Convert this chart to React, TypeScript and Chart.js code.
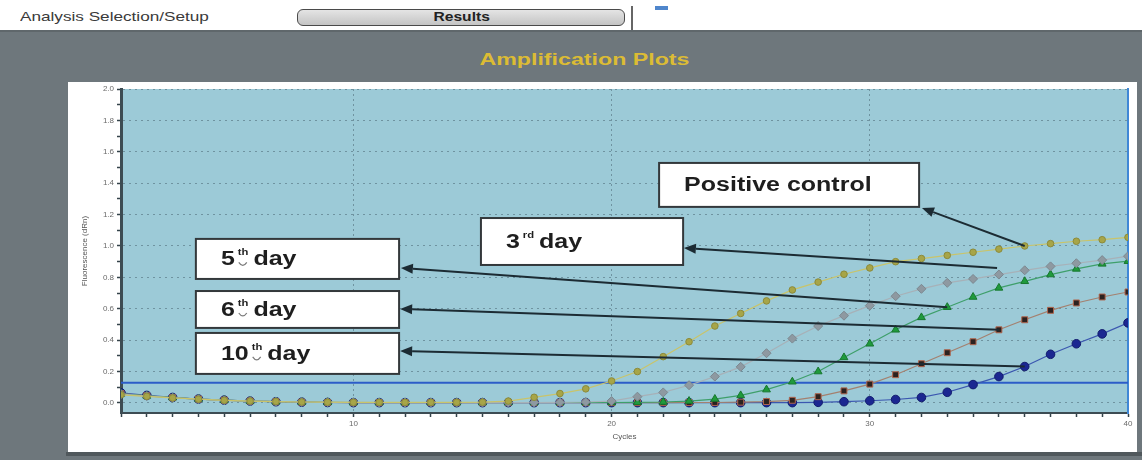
import React, { useEffect, useRef } from 'react';
import { Chart, registerables } from 'chart.js';

Chart.register(...registerables);

// ---------------- data ----------------
const cycles = [
  1, 2, 3, 4, 5, 6, 7, 8, 9, 10, 11, 12, 13, 14, 15, 16, 17, 18, 19, 20,
  21, 22, 23, 24, 25, 26, 27, 28, 29, 30, 31, 32, 33, 34, 35, 36, 37, 38, 39, 40,
];

const positiveControl = [
  0.052, 0.042, 0.032, 0.024, 0.017, 0.012, 0.009, 0.006, 0.005, 0.004,
  0.004, 0.004, 0.004, 0.004, 0.005, 0.012, 0.036, 0.06, 0.09, 0.14,
  0.2, 0.295, 0.39, 0.49, 0.57, 0.65, 0.72, 0.77, 0.82, 0.86,
  0.9, 0.92, 0.94, 0.96, 0.98, 1.0, 1.015, 1.03, 1.04, 1.055,
];

const thirdDay = [
  0.056, 0.044, 0.033, 0.024, 0.017, 0.012, 0.008, 0.006, 0.004, 0.004,
  0.003, 0.003, 0.003, 0.003, 0.003, 0.003, 0.003, 0.004, 0.006, 0.012,
  0.04, 0.067, 0.113, 0.168, 0.23, 0.317, 0.41, 0.49, 0.556, 0.62,
  0.68, 0.727, 0.765, 0.79, 0.818, 0.845, 0.87, 0.89, 0.91, 0.935,
];

const fifthDay = [
  0.058, 0.045, 0.034, 0.025, 0.018, 0.012, 0.008, 0.006, 0.004, 0.003,
  0.003, 0.003, 0.003, 0.003, 0.003, 0.003, 0.003, 0.003, 0.003, 0.003,
  0.004, 0.006, 0.012, 0.025, 0.048, 0.085, 0.135, 0.2, 0.29, 0.377,
  0.466, 0.545, 0.61, 0.675, 0.733, 0.775, 0.818, 0.854, 0.886, 0.903,
];

const sixthDay = [
  0.06, 0.046, 0.034, 0.025, 0.018, 0.012, 0.008, 0.005, 0.003, 0.002,
  0.002, 0.002, 0.002, 0.002, 0.002, 0.002, 0.002, 0.002, 0.002, 0.002,
  0.002, 0.002, 0.003, 0.003, 0.005, 0.009, 0.017, 0.04, 0.077, 0.12,
  0.18, 0.25, 0.32, 0.39, 0.466, 0.53, 0.59, 0.637, 0.675, 0.707,
];

const tenthDay = [
  0.064, 0.048, 0.035, 0.025, 0.018, 0.012, 0.008, 0.005, 0.003, 0.002,
  0.002, 0.002, 0.002, 0.002, 0.002, 0.002, 0.002, 0.002, 0.002, 0.002,
  0.002, 0.002, 0.002, 0.002, 0.002, 0.002, 0.002, 0.004, 0.008, 0.014,
  0.022, 0.035, 0.068, 0.117, 0.168, 0.232, 0.31, 0.377, 0.44, 0.51,
];

const thresholdValue = 0.128;

const yTickValues = [
  0, 0.1, 0.2, 0.3, 0.4, 0.5, 0.6, 0.7, 0.8, 0.9, 1.0,
  1.1, 1.2, 1.3, 1.4, 1.5, 1.6, 1.7, 1.8, 1.9, 2.0,
];
const xLabelCycles = [10, 20, 30, 40];
const xGridCycles = [10, 20, 30];

// callout texts
const calloutMain = ['Positive control', '3', '5', '6', '10'];
const calloutSup = ['', 'rd', 'th', 'th', 'th'];
const calloutRest = ['', 'day', 'day', 'day', 'day'];
// callout boxes in data units: [cycleLeft, cycleRight, valueTop, valueBottom]
const calloutBoxes = [
  [21.84, 31.91, 1.529, 1.249],
  [14.94, 22.77, 1.178, 0.879],
  [3.9, 11.77, 1.045, 0.79],
  [3.9, 11.77, 0.713, 0.478],
  [3.9, 11.77, 0.446, 0.185],
];
// arrows in data units: [tailCycle, tailValue, tipCycle, tipValue]
const calloutArrows = [
  [36, 1.0, 32.02, 1.242],
  [34.93, 0.86, 22.8, 0.987],
  [33, 0.61, 11.84, 0.86],
  [35, 0.466, 11.81, 0.599],
  [36, 0.232, 11.81, 0.331],
];

// ---------------- styles ----------------
const PLOT_BG = '#9ccad7';
const FONT = '"Liberation Sans", Arial, sans-serif';
const STRETCH = 1.25;

const toPoints = (vals: number[]) => cycles.map((c, i) => ({ x: c, y: vals[i] }));

function stretchedText(ctx: CanvasRenderingContext2D, text: string, x: number, y: number, font: string) {
  ctx.font = font;
  const w = ctx.measureText(text).width * STRETCH;
  ctx.save();
  ctx.translate(x, y);
  ctx.scale(STRETCH, 1);
  ctx.fillText(text, 0, 0);
  ctx.restore();
  return w;
}

const plotBackground = {
  id: 'plotBackground',
  beforeDraw(chart: any) {
    const { ctx, chartArea: a } = chart;
    ctx.save();
    ctx.fillStyle = PLOT_BG;
    ctx.fillRect(a.left, a.top, a.right - a.left, a.bottom - a.top);
    ctx.restore();
  },
};

const callouts = {
  id: 'callouts',
  afterDatasetsDraw(chart: any) {
    const { ctx } = chart;
    const xs = chart.scales.x;
    const ys = chart.scales.y;
    ctx.save();
    // boxes
    calloutBoxes.forEach((b, i) => {
      const L = xs.getPixelForValue(b[0]);
      const R = xs.getPixelForValue(b[1]);
      const T = ys.getPixelForValue(b[2]);
      const B = ys.getPixelForValue(b[3]);
      ctx.fillStyle = '#ffffff';
      ctx.fillRect(L, T, R - L, B - T);
      ctx.strokeStyle = '#33383b';
      ctx.lineWidth = 2;
      ctx.strokeRect(L, T, R - L, B - T);
      const base = (T + B) / 2 + 6.5;
      let x = L + 25;
      ctx.fillStyle = '#1e1e1e';
      ctx.textAlign = 'left';
      ctx.textBaseline = 'alphabetic';
      x += stretchedText(ctx, calloutMain[i], x, base, `bold 20px ${FONT}`);
      if (calloutSup[i]) {
        x += 3;
        const sx = x;
        x += stretchedText(ctx, calloutSup[i], x, base - 10, `bold 9px ${FONT}`);
        if (calloutSup[i] === 'th') {
          ctx.strokeStyle = '#7a7a7a';
          ctx.lineWidth = 1.2;
          ctx.beginPath();
          ctx.moveTo(sx + 1, base - 3);
          ctx.quadraticCurveTo(sx + 5, base + 3, sx + 9, base - 3);
          ctx.stroke();
        }
        x += 5;
        stretchedText(ctx, calloutRest[i], x, base, `bold 20px ${FONT}`);
      }
    });
    // arrows
    calloutArrows.forEach((a) => {
      const sx = xs.getPixelForValue(a[0]);
      const sy = ys.getPixelForValue(a[1]);
      const tx = xs.getPixelForValue(a[2]);
      const ty = ys.getPixelForValue(a[3]);
      const dx = tx - sx;
      const dy = ty - sy;
      const len = Math.hypot(dx, dy);
      const ux = dx / len;
      const uy = dy / len;
      const headLen = 12;
      const hw = 5;
      const bx = tx - ux * headLen;
      const by = ty - uy * headLen;
      ctx.strokeStyle = '#1c2b33';
      ctx.lineWidth = 2;
      ctx.beginPath();
      ctx.moveTo(sx, sy);
      ctx.lineTo(bx, by);
      ctx.stroke();
      ctx.fillStyle = '#1c2b33';
      ctx.beginPath();
      ctx.moveTo(tx, ty);
      ctx.lineTo(bx - uy * hw, by + ux * hw);
      ctx.lineTo(bx + uy * hw, by - ux * hw);
      ctx.closePath();
      ctx.fill();
    });
    ctx.restore();
  },
};

export default function App() {
  const canvasRef = useRef<HTMLCanvasElement>(null);

  useEffect(() => {
    const canvas = canvasRef.current;
    if (!canvas) return;
    Chart.defaults.font.family = FONT;
    const chart = new Chart(canvas, {
      type: 'line',
      data: {
        datasets: [
          {
            label: 'Positive control',
            data: toPoints(positiveControl),
            borderColor: '#c9c46a',
            borderWidth: 1.2,
            pointStyle: 'circle',
            pointRadius: 3.3,
            pointBackgroundColor: '#a7a548',
            pointBorderColor: '#8c8a3a',
            pointBorderWidth: 1,
          },
          {
            label: '3rd day',
            data: toPoints(thirdDay),
            borderColor: '#a7b1b8',
            borderWidth: 1.2,
            pointStyle: 'rectRot',
            pointRadius: 4.5,
            pointBackgroundColor: '#8e99a1',
            pointBorderColor: '#7c8890',
            pointBorderWidth: 1,
          },
          {
            label: '5th day',
            data: toPoints(fifthDay),
            borderColor: '#3e9f6a',
            borderWidth: 1.2,
            pointStyle: 'triangle',
            pointRadius: 4.5,
            pointBackgroundColor: '#1f9a3c',
            pointBorderColor: '#17772e',
            pointBorderWidth: 1,
          },
          {
            label: '6th day',
            data: toPoints(sixthDay),
            borderColor: '#a4806f',
            borderWidth: 1.2,
            pointStyle: 'rect',
            pointRadius: 4.2,
            pointBackgroundColor: '#2b2220',
            pointBorderColor: '#b0654d',
            pointBorderWidth: 1,
          },
          {
            label: '10th day',
            data: toPoints(tenthDay),
            borderColor: '#3b57b0',
            borderWidth: 1.2,
            pointStyle: 'circle',
            pointRadius: 4.3,
            pointBackgroundColor: '#1b2791',
            pointBorderColor: '#121c6e',
            pointBorderWidth: 1,
          },
          {
            label: 'Threshold',
            data: [
              { x: cycles[0], y: thresholdValue },
              { x: cycles[cycles.length - 1], y: thresholdValue },
            ],
            borderColor: '#2c5cc8',
            borderWidth: 2,
            pointRadius: 0,
          },
        ],
      },
      options: {
        responsive: false,
        animation: false,
        layout: { padding: { left: 68, top: 89, right: 14, bottom: 8 } },
        plugins: { legend: { display: false }, tooltip: { enabled: false } },
        scales: {
          x: {
            type: 'linear',
            min: cycles[0],
            max: cycles[cycles.length - 1],
            afterBuildTicks: (s: any) => {
              s.ticks = cycles.map((v) => ({ value: v }));
            },
            afterFit: (s: any) => {
              s.height = 39;
            },
            ticks: {
              autoSkip: false,
              maxRotation: 0,
              padding: 2,
              color: '#6a6a6a',
              font: { size: 8 },
              callback: (v: any) => (xLabelCycles.includes(Number(v)) ? String(v) : ''),
            },
            grid: {
              color: (ctx: any) =>
                ctx.tick && xGridCycles.includes(ctx.tick.value) ? '#6f93a0' : 'rgba(0,0,0,0)',
              lineWidth: 1,
              tickColor: '#34434a',
              tickLength: 4,
              tickWidth: 1.5,
            },
            border: { color: '#3d4c53', width: 2, dash: [2, 3] },
            title: {
              display: true,
              text: 'Cycles',
              color: '#555',
              font: { size: 8 },
              padding: { top: 0, bottom: 10 },
            },
          },
          y: {
            type: 'linear',
            min: -0.064,
            max: 2.0,
            afterBuildTicks: (s: any) => {
              s.ticks = yTickValues.map((v) => ({ value: v }));
            },
            afterFit: (s: any) => {
              s.width = 53;
            },
            ticks: {
              autoSkip: false,
              padding: 3,
              color: '#6a6a6a',
              font: { size: 8 },
              callback: (v: any) => (Math.round(Number(v) * 10) % 2 === 0 ? Number(v).toFixed(1) : ''),
            },
            grid: {
              color: (ctx: any) =>
                ctx.tick && Math.round(ctx.tick.value * 10) % 2 === 0 ? '#6f93a0' : 'rgba(0,0,0,0)',
              lineWidth: 1,
              tickColor: '#34434a',
              tickLength: 4,
              tickWidth: 1.5,
            },
            border: { color: '#3d4c53', width: 3, dash: [2, 4] },
            title: {
              display: true,
              text: 'Fluorescence (dRn)',
              color: '#555',
              font: { size: 8 },
              padding: { top: 12, bottom: 0 },
            },
          },
          y2: {
            position: 'right',
            grid: { display: false },
            ticks: { display: false },
            border: { display: true, color: '#3f87d6', width: 2 },
            afterFit: (s: any) => {
              s.width = 0;
            },
          },
        },
      },
      plugins: [plotBackground, callouts],
    } as any);
    return () => chart.destroy();
  }, []);

  return (
    <div
      style={{
        position: 'fixed',
        left: 0,
        top: 0,
        width: 1142,
        height: 460,
        overflow: 'hidden',
        background: '#6e777c',
        fontFamily: FONT,
      }}
    >
      <div style={{ position: 'absolute', left: 0, top: 0, width: 1142, height: 30, background: '#ffffff' }} />
      <div style={{ position: 'absolute', left: 0, top: 30, width: 1142, height: 2, background: '#5f676b' }} />
      <div
        style={{
          position: 'absolute',
          left: 20,
          top: 9,
          fontSize: 13,
          lineHeight: '15px',
          color: '#3a3a3a',
          whiteSpace: 'nowrap',
          transform: `scaleX(${1.32})`,
          transformOrigin: 'left top',
        }}
      >
        Analysis Selection/Setup
      </div>
      <div
        style={{
          position: 'absolute',
          left: 297,
          top: 9,
          width: 326,
          height: 15,
          border: '1.5px solid #4a4a4a',
          borderRadius: 6,
          background: 'linear-gradient(#e4e4e4, #c4c4c4)',
        }}
      />
      <div
        style={{
          position: 'absolute',
          left: 297,
          top: 8,
          width: 329,
          textAlign: 'center',
          fontWeight: 'bold',
          fontSize: 12,
          lineHeight: '18px',
          color: '#222',
        }}
      >
        <span style={{ display: 'inline-block', transform: 'scaleX(1.3)' }}>Results</span>
      </div>
      <div style={{ position: 'absolute', left: 631, top: 6, width: 2, height: 24, background: '#666' }} />
      <div style={{ position: 'absolute', left: 655, top: 6, width: 13, height: 4, background: '#4f86cc' }} />
      <div
        style={{
          position: 'absolute',
          left: 384,
          top: 50,
          width: 400,
          textAlign: 'center',
          fontWeight: 'bold',
          fontSize: 16,
          lineHeight: '20px',
          color: '#dcbc34',
        }}
      >
        <span style={{ display: 'inline-block', transform: 'scaleX(1.45)' }}>Amplification Plots</span>
      </div>
      <div style={{ position: 'absolute', left: 68, top: 82, width: 1069, height: 370, background: '#ffffff' }} />
      <div style={{ position: 'absolute', left: 66, top: 452, width: 1076, height: 4, background: '#50585c' }} />
      <canvas
        ref={canvasRef}
        width={1142}
        height={460}
        style={{ position: 'absolute', left: 0, top: 0, width: 1142, height: 460 }}
      />
    </div>
  );
}
